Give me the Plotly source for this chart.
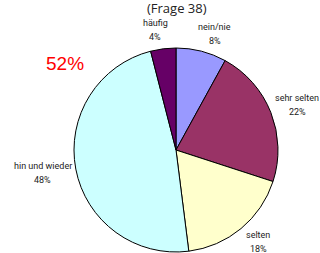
import math
import plotly.graph_objects as go

categories = ["nein/nie", "sehr selten", "selten", "hin und wieder", "häufig"]
values = [8, 22, 18, 48, 4]
colors = ["#9999FF", "#993366", "#FFFFCC", "#CCFFFF", "#660066"]
title_text = "(Frage 38)"
highlight_text = "52%"

W, H = 320, 253
ml, mr, mt, mb = 74, 42, 48, 1

# label placement style: radial distance (in radii) and angle nudge (deg)
label_factor = [1.198, 1.266, 1.212, 1.328, 1.198]
label_nudge = [4.0, 1.2, -2.0, 1.0, -2.5]

fig = go.Figure(go.Pie(
    labels=categories, values=values, sort=False, direction="clockwise",
    rotation=0, textinfo="none", hoverinfo="label+percent",
    marker=dict(colors=colors, line=dict(color="#000000", width=1)),
    showlegend=False,
))

pw = W - ml - mr
ph = H - mt - mb
total = sum(values)
cum = 0
annotations = []
lab_font = dict(family="Roboto", size=9, color="#222222")
half_gap = 7.0 / ph
for cat, v, f, nd in zip(categories, values, label_factor, label_nudge):
    mid = (cum + v / 2) / total * 2 * math.pi + math.radians(nd)
    cum += v
    x = 0.5 + 0.5 * f * math.sin(mid)
    y = 0.5 + 0.5 * f * math.cos(mid)
    annotations.append(dict(
        x=x, y=y + half_gap, xref="paper", yref="paper", showarrow=False,
        text=cat, font=lab_font, xanchor="center", yanchor="middle",
    ))
    annotations.append(dict(
        x=x, y=y - half_gap, xref="paper", yref="paper", showarrow=False,
        text=f"{round(v / total * 100)}%", font=lab_font,
        xanchor="center", yanchor="middle",
    ))

annotations.append(dict(
    x=(177 - ml) / pw, y=1 + (mt - 8) / ph, xref="paper", yref="paper",
    showarrow=False, text=title_text,
    font=dict(family="Open Sans", size=13, color="#222222"),
    xanchor="center", yanchor="middle",
))
annotations.append(dict(
    x=(64.5 - ml) / pw, y=1 + (mt - 64) / ph, xref="paper", yref="paper",
    showarrow=False, text=highlight_text,
    font=dict(family="Liberation Sans", size=19, color="#FF0000"),
    xanchor="center", yanchor="middle",
))

fig.update_layout(
    width=W, height=H, margin=dict(l=ml, r=mr, t=mt, b=mb),
    paper_bgcolor="white", plot_bgcolor="white",
    annotations=annotations,
)
fig.write_html(
    "out.html",
    config={"displayModeBar": False},
    post_script="document.body.style.margin='0';document.body.style.overflow='hidden';",
)
